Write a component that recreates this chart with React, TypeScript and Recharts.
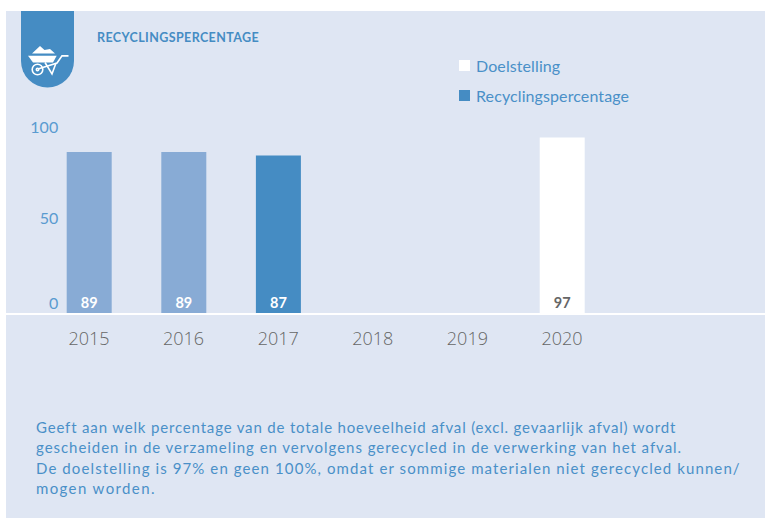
import { Bar, BarChart, Cell, LabelList, Legend, XAxis, YAxis } from "recharts";

const years = ["2015", "2016", "2017", "2018", "2019", "2020"];
const recycling = [89, 89, 87, null, null, null];
const target = [null, null, null, null, null, 97];
const recyclingColors = ["#88abd5", "#88abd5", "#458cc3", "#458cc3", "#458cc3", "#458cc3"];
const yTicks = [0, 50, 100];
const noteLines = [
  "Geeft aan welk percentage van de totale hoeveelheid afval (excl. gevaarlijk afval) wordt",
  "gescheiden in de verzameling en vervolgens gerecycled in de verwerking van het afval.",
  "De doelstelling is 97% en geen 100%, omdat er sommige materialen niet gerecycled kunnen/",
  "mogen worden.",
];
const noteSpacing = [0.83, 0.96, 1.1, 1.38];

const data = years.map((year, i) => ({ year, recycling: recycling[i], target: target[i] }));

const blue = "#458cc3";
const textBlue = "#4a90c8";
const font = "Lato, sans-serif";
const tickOffset: any = { 0: -10, 50: -5, 100: -5 };

function YTick({ x, y, payload }: any) {
  return (
    <text x={x + 24.5} y={y + tickOffset[payload.value]} dy={6} textAnchor="end" fontFamily={font} fontSize={16} fill="#5a9bd0">
      {payload.value}
    </text>
  );
}

function barLabel(color: string) {
  return ({ x, width, value }: any) =>
    value == null ? null : (
      <text x={x + width / 2} y={308} textAnchor="middle" fontFamily={font} fontSize={14.5} fontWeight={700} fill={color}>
        {value}
      </text>
    );
}

function LegendBox() {
  const items = [
    { name: "Doelstelling", color: "#ffffff" },
    { name: "Recyclingspercentage", color: blue },
  ];
  return (
    <div>
      {items.map((it) => (
        <div key={it.name} style={{ display: "flex", alignItems: "center", height: 30, fontFamily: font, fontSize: 16, color: textBlue, letterSpacing: 0.1 }}>
          <span style={{ width: 11, height: 11, background: it.color, marginRight: 6 }} />
          {it.name}
        </div>
      ))}
    </div>
  );
}

export default function App() {
  return (
    <div style={{ position: "absolute", left: 0, top: 0, width: 765, height: 519, background: "#fff", overflow: "hidden" }}>
      <div style={{ position: "absolute", left: 6, top: 11, width: 759, height: 507, background: "#dfe6f3" }} />
      <div style={{ position: "absolute", left: 6, top: 313, width: 759, height: 2, background: "#fff" }} />

      <svg width={765} height={100} style={{ position: "absolute", left: 0, top: 0 }}>
        <path d="M21 11H74V61A26.5 26.5 0 0 1 21 61Z" fill={blue} />
        <path d="M28 55.7H56.7L53 62.5H33Z" fill="#fff" />
        <path d="M32 53.5L40 46L44.5 50L50 49L55 53.5Z" fill="#fff" />
        <g fill="none" stroke="#fff" strokeWidth={1.6}>
          <circle cx={37.5} cy={69.5} r={5.3} />
          <circle cx={37.5} cy={69.5} r={1.2} />
          <path d="M38 69L57 63L62 55.9H68.5" />
          <path d="M45 62.5L52 74L56 63" />
        </g>
      </svg>

      <div style={{ position: "absolute", left: 97, top: 30, fontFamily: font, fontSize: 12.5, fontWeight: 700, color: blue, letterSpacing: 0.4 }}>
        RECYCLINGSPERCENTAGE
      </div>

      <div style={{ position: "absolute", left: 0, top: 0 }}>
        <BarChart width={765} height={519} data={data} barSize={45} margin={{ top: 132, right: 155.7, bottom: 176, left: 0 }}>
          <XAxis dataKey="year" axisLine={false} tickLine={false} height={30} tickMargin={13} interval={0} tick={{ fontFamily: "'Open Sans', sans-serif", fontSize: 18, fontWeight: 300, fill: "#666666" }} />
          <YAxis width={41.7} domain={[0, 100]} ticks={yTicks} axisLine={false} tickLine={false} tick={<YTick />} />
          <Legend layout="vertical" align="center" verticalAlign="middle" content={<LegendBox />} wrapperStyle={{ left: 459, top: 50, width: 220 }} />
          <Bar dataKey="target" stackId="a" fill="#ffffff" isAnimationActive={false}>
            <LabelList dataKey="target" content={barLabel("#666666")} />
          </Bar>
          <Bar dataKey="recycling" stackId="a" fill={blue} isAnimationActive={false}>
            {data.map((d, i) => (
              <Cell key={d.year} fill={recyclingColors[i]} />
            ))}
            <LabelList dataKey="recycling" content={barLabel("#ffffff")} />
          </Bar>
        </BarChart>
      </div>

      <div style={{ position: "absolute", left: 36, top: 417, fontFamily: font, fontSize: 15, lineHeight: "20.3px", color: textBlue, whiteSpace: "nowrap" }}>
        {noteLines.map((l, i) => (
          <div key={l} style={{ letterSpacing: noteSpacing[i] }}>{l}</div>
        ))}
      </div>
    </div>
  );
}
